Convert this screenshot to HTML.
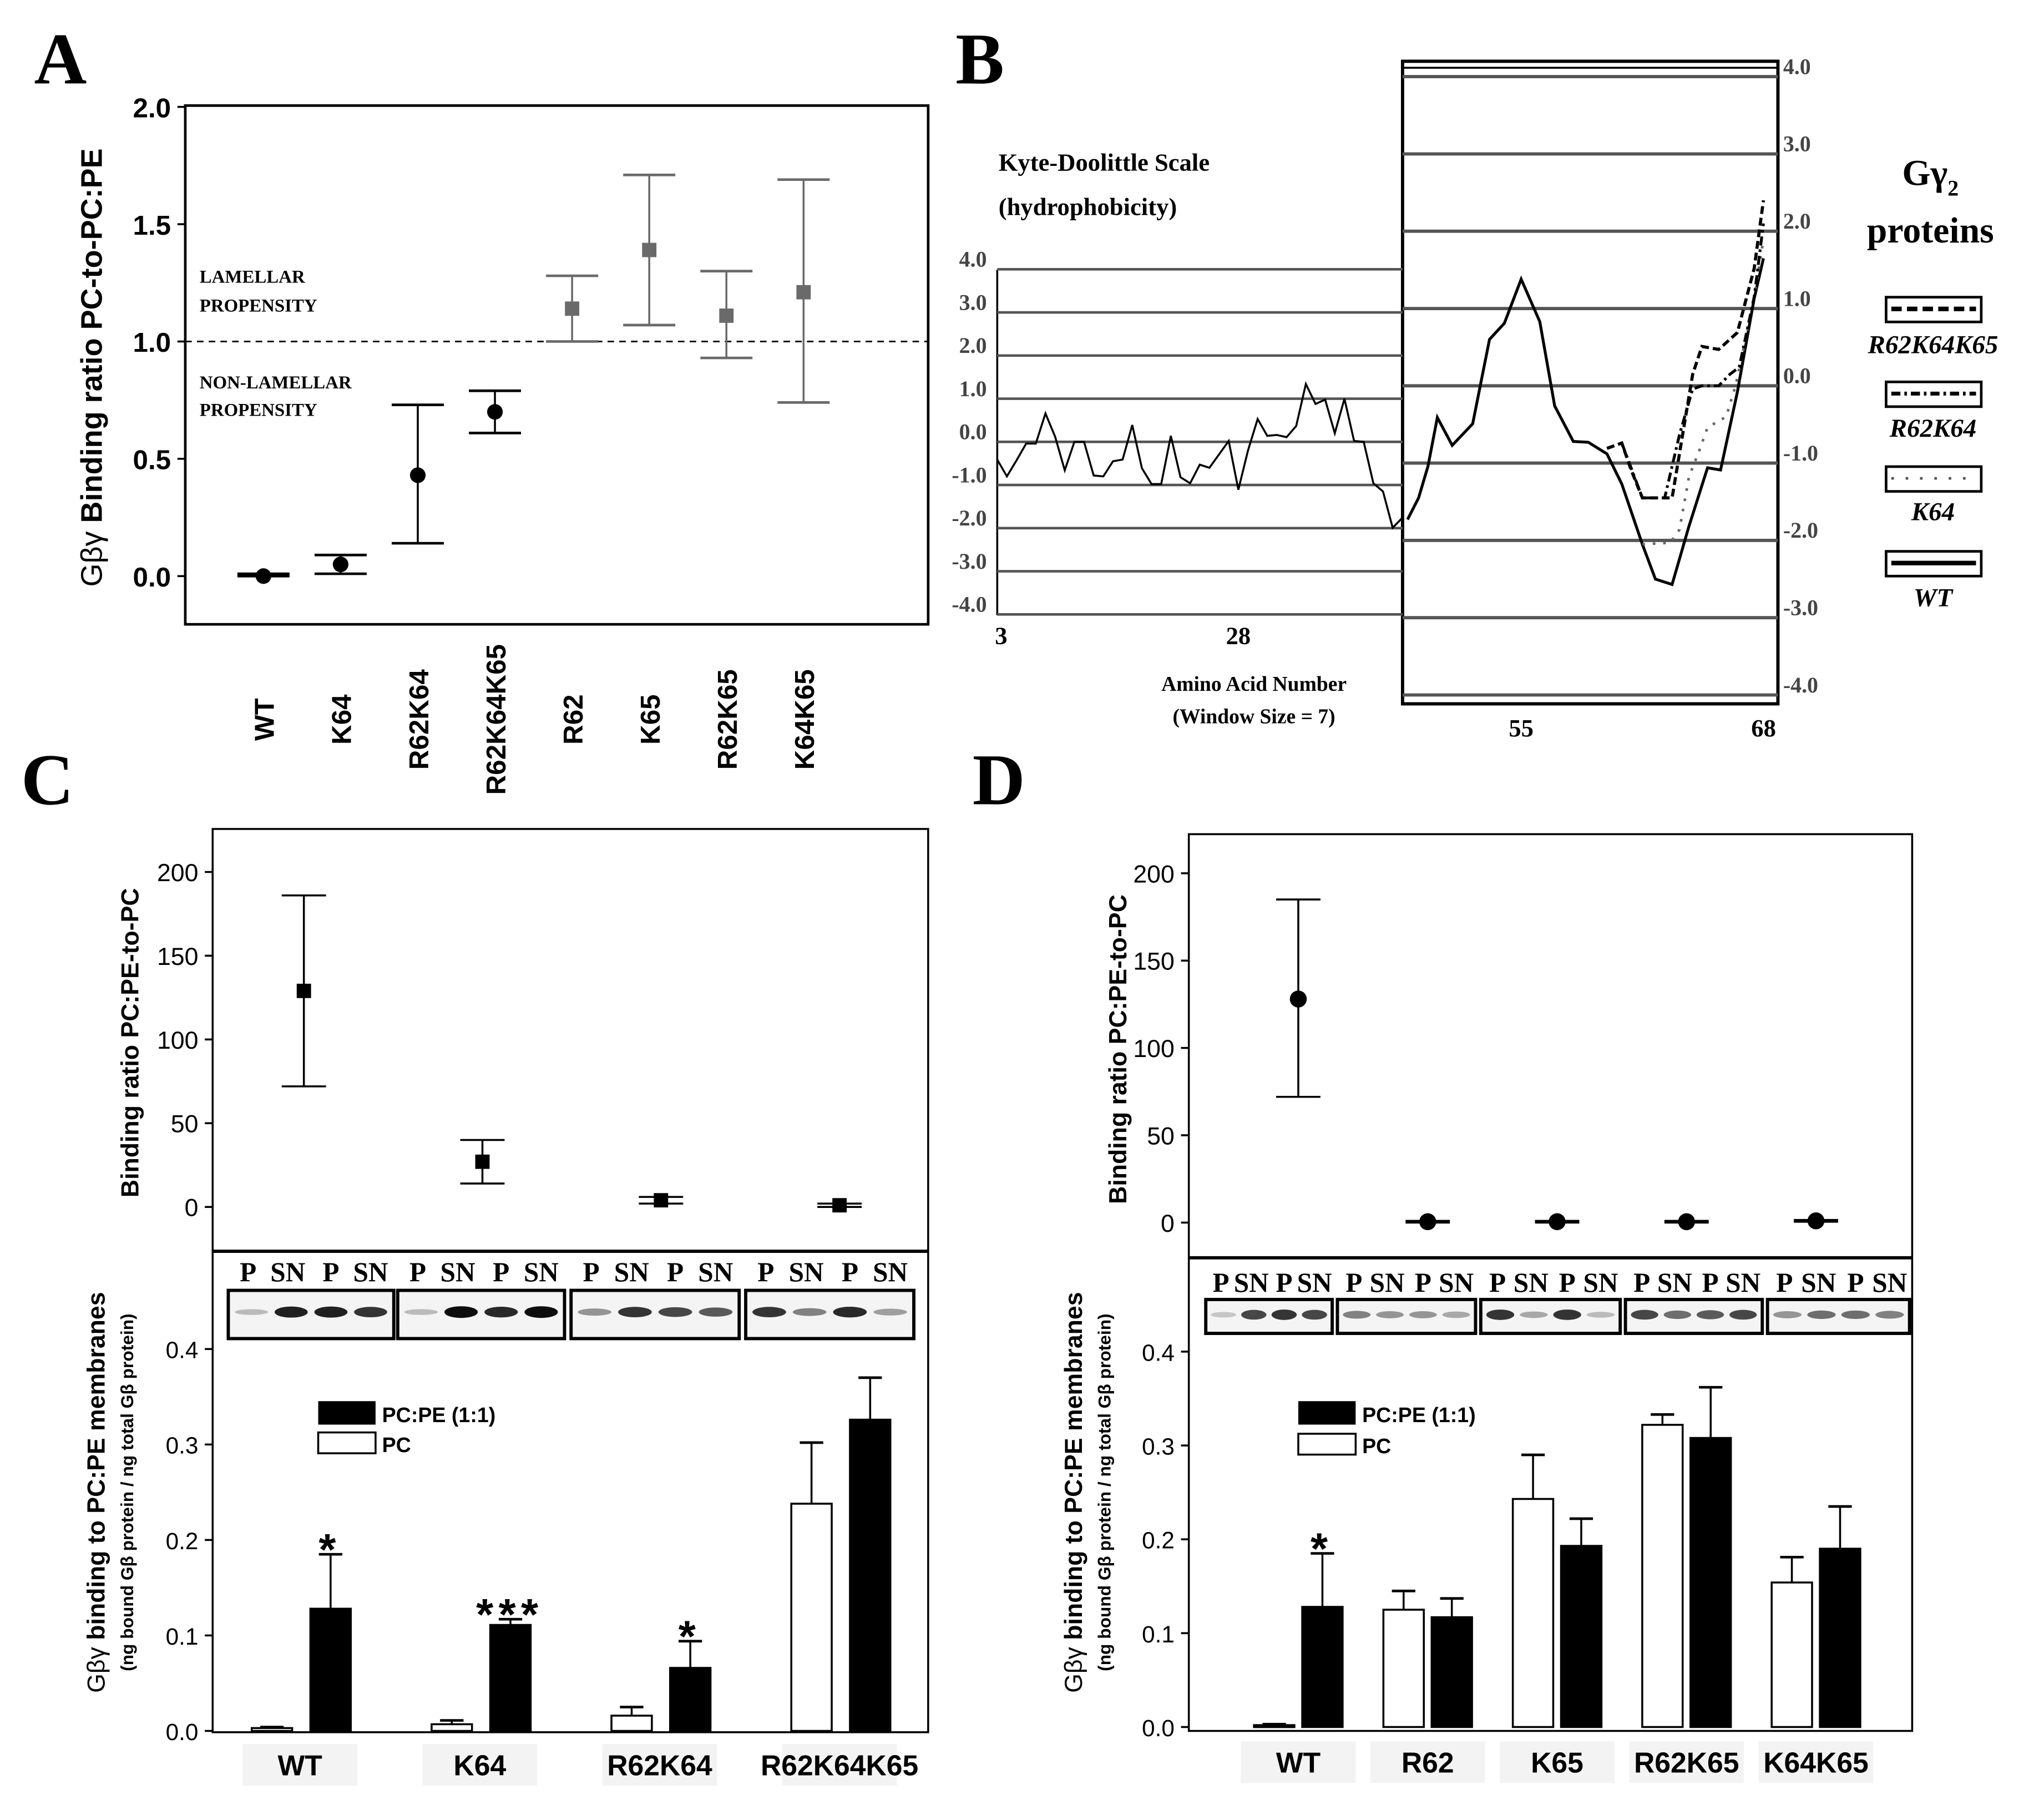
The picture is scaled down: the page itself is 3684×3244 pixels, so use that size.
<!DOCTYPE html>
<html><head><meta charset="utf-8">
<style>
html,body{margin:0;padding:0;background:#fff;}
svg{display:block;}
.serif{font-family:"Liberation Serif",serif;font-weight:bold;}
.sans{font-family:"Liberation Sans",sans-serif;font-weight:bold;}
</style></head>
<body>
<svg id="fig" xmlns="http://www.w3.org/2000/svg" width="3684" height="3244" viewBox="0 0 1568 1381">
<rect x="0" y="0" width="1568" height="1381" fill="#fff"/>

<text class="serif" x="26" y="64" font-size="56">A</text>
<text class="serif" x="733" y="64" font-size="56">B</text>
<text class="serif" x="16" y="617" font-size="56">C</text>
<text class="serif" x="746" y="617" font-size="56">D</text>

<g id="panelA">
<rect x="142" y="81" width="570" height="398" fill="none" stroke="#000" stroke-width="2"/>
<line x1="142" y1="262" x2="712" y2="262" stroke="#000" stroke-width="1.2" stroke-dasharray="5,4"/>
<text class="serif" x="153" y="217" font-size="14" font-weight="normal">LAMELLAR</text>
<text class="serif" x="153" y="239" font-size="14" font-weight="normal">PROPENSITY</text>
<text class="serif" x="153" y="298" font-size="14" font-weight="normal">NON-LAMELLAR</text>
<text class="serif" x="153" y="319" font-size="14" font-weight="normal">PROPENSITY</text>
<text class="sans" transform="translate(78,282) rotate(-90)" text-anchor="middle" font-size="23"><tspan font-weight="normal">Gβγ </tspan> Binding ratio PC-to-PC:PE</text>
</g>

<g id="panelB">
<text class="serif" x="766" y="131" font-size="19">Kyte-Doolittle Scale</text>
<text class="serif" x="766" y="165" font-size="19">(hydrophobicity)</text>
<line x1="765" y1="207" x2="765" y2="472" stroke="#000" stroke-width="1.5"/>
<rect x="1076" y="47" width="288" height="493" fill="none" stroke="#000" stroke-width="2.5"/>
<line x1="1076" y1="52" x2="1364" y2="52" stroke="#000" stroke-width="1.5"/>
<text class="serif" x="768" y="494" font-size="19" text-anchor="middle">3</text>
<text class="serif" x="950" y="494" font-size="19" text-anchor="middle">28</text>
<text class="serif" x="1167" y="565" font-size="19" text-anchor="middle">55</text>
<text class="serif" x="1353" y="565" font-size="19" text-anchor="middle">68</text>
<text class="serif" x="962" y="530" font-size="16" text-anchor="middle">Amino Acid Number</text>
<text class="serif" x="962" y="555" font-size="16" text-anchor="middle">(Window Size = 7)</text>
<text class="serif" x="1481" y="142" font-size="28" text-anchor="middle">Gγ<tspan font-size="17" dy="8">2</tspan></text>
<text class="serif" x="1481" y="186" font-size="28" text-anchor="middle">proteins</text>
<rect x="1447" y="228" width="73" height="19" fill="#fff" stroke="#000" stroke-width="2"/>
<line x1="1451" y1="237" x2="1516" y2="237" stroke="#000" stroke-width="3.5" stroke-dasharray="8,4"/>
<text class="serif" x="1483" y="271" font-size="20" font-style="italic" text-anchor="middle">R62K64K65</text>
<rect x="1447" y="293" width="73" height="19" fill="#fff" stroke="#000" stroke-width="2"/>
<line x1="1451" y1="302" x2="1516" y2="302" stroke="#000" stroke-width="3" stroke-dasharray="7,3,2,3"/>
<text class="serif" x="1483" y="335" font-size="20" font-style="italic" text-anchor="middle">R62K64</text>
<rect x="1447" y="358" width="73" height="19" fill="#fff" stroke="#000" stroke-width="2"/>
<line x1="1451" y1="367" x2="1516" y2="367" stroke="#555" stroke-width="2" stroke-dasharray="2,9"/>
<text class="serif" x="1483" y="399" font-size="20" font-style="italic" text-anchor="middle">K64</text>
<rect x="1447" y="423" width="73" height="19" fill="#fff" stroke="#000" stroke-width="2"/>
<line x1="1451" y1="432" x2="1516" y2="432" stroke="#000" stroke-width="3.5"/>
<text class="serif" x="1483" y="465" font-size="20" font-style="italic" text-anchor="middle">WT</text>
</g>

<g id="panelC">
<rect x="163" y="636" width="549" height="693" fill="none" stroke="#000" stroke-width="1.5"/>
<line x1="163" y1="960" x2="712" y2="960" stroke="#000" stroke-width="2.5"/>
<text class="sans" transform="translate(106,800) rotate(-90)" text-anchor="middle" font-size="19">Binding ratio PC:PE-to-PC</text>
<text class="sans" transform="translate(80,1145) rotate(-90)" text-anchor="middle" font-size="19"><tspan font-weight="normal">Gβγ</tspan> binding to PC:PE membranes</text>
<text class="sans" transform="translate(102,1145) rotate(-90)" text-anchor="middle" font-size="13.5" font-weight="normal">(ng bound Gβ protein / ng total Gβ protein)</text>
<rect x="244" y="1075" width="44" height="18" fill="#000"/>
<text class="sans" x="293" y="1091" font-size="16">PC:PE (1:1)</text>
<rect x="244" y="1099" width="44" height="16" fill="#fff" stroke="#000" stroke-width="1.5"/>
<text class="sans" x="293" y="1114" font-size="16">PC</text>
</g>

<g id="panelD">
<rect x="912" y="640" width="555" height="688" fill="none" stroke="#000" stroke-width="1.5"/>
<line x1="912" y1="965" x2="1467" y2="965" stroke="#000" stroke-width="2.5"/>
<text class="sans" transform="translate(864,805) rotate(-90)" text-anchor="middle" font-size="19">Binding ratio PC:PE-to-PC</text>
<text class="sans" transform="translate(830,1145) rotate(-90)" text-anchor="middle" font-size="19"><tspan font-weight="normal">Gβγ</tspan> binding to PC:PE membranes</text>
<text class="sans" transform="translate(852,1145) rotate(-90)" text-anchor="middle" font-size="13.5" font-weight="normal">(ng bound Gβ protein / ng total Gβ protein)</text>
<rect x="996" y="1075" width="44" height="18" fill="#000"/>
<text class="sans" x="1045" y="1091" font-size="16">PC:PE (1:1)</text>
<rect x="996" y="1100" width="44" height="16" fill="#fff" stroke="#000" stroke-width="1.5"/>
<text class="sans" x="1045" y="1115" font-size="16">PC</text>
</g>
</svg>

<script>
// ---------- Panel A data ----------
const aCats=['WT','K64','R62K64','R62K64K65','R62','K65','R62K65','K64K65'];
const aMean=[0.0,0.05,0.43,0.70,1.14,1.39,1.11,1.21];
const aLow=[0.0,0.01,0.14,0.61,1.00,1.07,0.93,0.74];
const aHigh=[0.01,0.09,0.73,0.79,1.28,1.71,1.30,1.69];
const aTicks=[0.0,0.5,1.0,1.5,2.0];

// ---------- Panel B data ----------
const bLeftStart=3;
const bLeftVals=[-0.41,-0.80,-0.43,-0.04,-0.04,0.66,0.12,-0.66,0.0,0.0,-0.78,-0.80,-0.45,-0.41,0.39,-0.61,-0.98,-0.98,0.14,-0.82,-0.96,-0.53,-0.60,-0.29,0.02,-1.11,-0.20,0.53,0.14,0.16,0.11,0.37,1.34,0.88,0.98,0.20,1.00,0.02,0.0,-0.96,-1.15,-1.99,-1.76];
const bLeftTicks=[4,3,2,1,0,-1,-2,-3,-4];
const bRightTicks=[4,3,2,1,0,-1,-2,-3,-4];
const wtRes=[48.9,49.5,50,50.5,51.3,52.4,53.3,54.1,55,56,56.8,57.8,58.6,59.6,60.4,61.5,62.2,63.1,64,65,65.7,66.6,67.5,68];
const wtVals=[-1.73,-1.45,-1.04,-0.41,-0.77,-0.49,0.6,0.81,1.38,0.83,-0.26,-0.72,-0.73,-0.88,-1.27,-2.05,-2.5,-2.57,-1.82,-1.06,-1.09,-0.08,1.13,1.65];
const tripleRes=[59.6,60.4,60.9,61.5,63.1,64.2,64.7,65.6,66.6,67.5,68];
const tripleVals=[-0.81,-0.74,-1.09,-1.45,-1.45,0.15,0.51,0.47,0.69,1.52,2.4];
const doubleRes=[60.4,61.5,62.7,63.5,64.2,64.7,65.6,66.2,66.7,67.5,68];
const doubleVals=[-0.74,-1.45,-1.45,-0.63,-0.04,0.0,0.0,0.15,0.24,1.15,2.1];
const k64Res=[61.5,63,63.5,64,64.6,65,66,66.5,67.5,68];
const k64Vals=[-2.05,-2.03,-1.86,-1.18,-0.81,-0.54,-0.4,0.0,1.13,1.9];

// ---------- Panel C data ----------
const cCats=['WT','K64','R62K64','R62K64K65'];
const cRatio=[129,27,4,1];
const cRatioLo=[72,14,2,0];
const cRatioHi=[186,40,6,2];
const cPC=[0.003,0.007,0.016,0.238];
const cPCtop=[0.004,0.011,0.025,0.302];
const cPE=[0.128,0.111,0.066,0.326];
const cPEtop=[0.185,0.117,0.094,0.370];
const cStars=['*','***','*',''];
const ratioTicks=[0,50,100,150,200];
const barTicks=[0.0,0.1,0.2,0.3,0.4];

// ---------- Panel D data ----------
const dCats=['WT','R62','K65','R62K65','K64K65'];
const dRatio=[128,0.5,0.5,0.5,1];
const dRatioLo=[72,0,0,0,0.5];
const dRatioHi=[185,1,1,1,1.5];
const dPC=[0.002,0.125,0.243,0.322,0.154];
const dPCtop=[0.003,0.145,0.290,0.333,0.181];
const dPE=[0.128,0.117,0.193,0.308,0.190];
const dPEtop=[0.185,0.137,0.222,0.362,0.235];
const dStars=['*','','','',''];

const NS='http://www.w3.org/2000/svg';
function mk(parent,tag,attrs,text){const e=document.createElementNS(NS,tag);for(const k in attrs)e.setAttribute(k,attrs[k]);if(text!=null)e.textContent=text;parent.appendChild(e);return e;}
const A=document.getElementById('panelA'),B=document.getElementById('panelB'),C=document.getElementById('panelC'),D=document.getElementById('panelD');
const SANS='"Liberation Sans", sans-serif', SERIF='"Liberation Serif", serif';

// ===== Panel A =====
const xA=i=>202+i*59.2, yA=v=>442-v*180;
aTicks.forEach(t=>{
  let tk=mk(A,'line',{x1:136,x2:142,y1:yA(t),y2:yA(t),stroke:'#000','stroke-width':1.5});
  
  
  let tl=mk(A,'text',{x:131,y:yA(t)+8,'text-anchor':'end','font-family':SANS,'font-weight':'bold','font-size':21},t.toFixed(1));
  
  
});
aCats.forEach((c,i)=>{
  const col=i<4?'#000':'#6a6a6a', x=xA(i);
  let eb=mk(A,'line',{x1:x,x2:x,y1:yA(aLow[i]),y2:yA(aHigh[i]),stroke:col,'stroke-width':1.5});
  
  
  [aLow[i],aHigh[i]].forEach(v=>{
    let cp=mk(A,'line',{x1:x-20,x2:x+20,y1:yA(v),y2:yA(v),stroke:col,'stroke-width':2});
    
    
  });
  let m;
  if(i<4) m=mk(A,'circle',{cx:x,cy:yA(aMean[i]),r:6,fill:'#000'});
  else m=mk(A,'rect',{x:x-5.5,y:yA(aMean[i])-5.5,width:11,height:11,fill:col});
  
  
  let lb=mk(A,'text',{transform:`translate(${x+8},552) rotate(-90)`,'text-anchor':'middle','font-family':SANS,'font-weight':'bold','font-size':21},c);
  
  
});

// ===== Panel B =====
const xL=r=>765+(r-3)*7.4, yL=v=>339-v*33.1;
const xR=r=>1167+(r-55)*14.3, yR=v=>296-v*59.3;
bLeftTicks.forEach(t=>{
  let g=mk(B,'line',{x1:765,x2:1076,y1:yL(t),y2:yL(t),stroke:'#555','stroke-width':2});
  
  
  let tl=mk(B,'text',{x:757,y:yL(t)-2,'text-anchor':'end','font-family':SERIF,'font-weight':'bold','font-size':17,fill:'#444'},t.toFixed(1));
  
  
});
bRightTicks.forEach(t=>{
  let g=mk(B,'line',{x1:1076,x2:1364,y1:yR(t),y2:yR(t),stroke:'#555','stroke-width':2.5});
  
  
  let tl=mk(B,'text',{x:1368,y:yR(t)-2,'font-family':SERIF,'font-weight':'bold','font-size':17,fill:'#444'},t.toFixed(1));
  
  
});
let lp=bLeftVals.map((v,i)=>`${i?'L':'M'}${xL(bLeftStart+i).toFixed(1)},${yL(v).toFixed(1)}`).join(' ');
let leftLine=mk(B,'path',{d:lp,fill:'none',stroke:'#000','stroke-width':1.5});


function rpath(res,vals){return res.map((r,i)=>`${i?'L':'M'}${xR(r).toFixed(1)},${yR(vals[i]).toFixed(1)}`).join(' ');}
let wtLine=mk(B,'path',{d:rpath(wtRes,wtVals),fill:'none',stroke:'#000','stroke-width':2.2});


let k64Line=mk(B,'path',{d:rpath(k64Res,k64Vals),fill:'none',stroke:'#666','stroke-width':2,'stroke-dasharray':'2,6'});


let dblLine=mk(B,'path',{d:rpath(doubleRes,doubleVals),fill:'none',stroke:'#000','stroke-width':2.2,'stroke-dasharray':'7,3,2,3'});


let triLine=mk(B,'path',{d:rpath(tripleRes,tripleVals),fill:'none',stroke:'#000','stroke-width':2.4,'stroke-dasharray':'6,3'});



function ratioPlot(G,cats,vals,lo,hi,xf,yf,tickX,square,key){
  ratioTicks.forEach(t=>{
    let tk=mk(G,'line',{x1:tickX,x2:tickX+6,y1:yf(t),y2:yf(t),stroke:'#000','stroke-width':1.5});
    
    
    let tl=mk(G,'text',{x:tickX-5,y:yf(t)+7,'text-anchor':'end','font-family':SANS,'font-size':19},String(t));
    
    
  });
  cats.forEach((c,i)=>{
    const x=xf(i);
    let eb=mk(G,'line',{x1:x,x2:x,y1:yf(lo[i]),y2:yf(hi[i]),stroke:'#000','stroke-width':1.5});
    
    
    [lo[i],hi[i]].forEach(v=>{
      let cp=mk(G,'line',{x1:x-17,x2:x+17,y1:yf(v),y2:yf(v),stroke:'#000','stroke-width':1.5});
      
      
    });
    let m=square?mk(G,'rect',{x:x-5.5,y:yf(vals[i])-5.5,width:11,height:11,fill:'#000'}):mk(G,'circle',{cx:x,cy:yf(vals[i]),r:6.5,fill:'#000'});
    
    
  });
}
function barPlot(G,cats,pc,pcTop,pe,peTop,stars,xc,yf,tickX,wOff,key,labelY){
  barTicks.forEach(t=>{
    let tk=mk(G,'line',{x1:tickX,x2:tickX+6,y1:yf(t),y2:yf(t),stroke:'#000','stroke-width':1.5});
    
    
    let tl=mk(G,'text',{x:tickX-5,y:yf(t)+7,'text-anchor':'end','font-family':SANS,'font-size':18},t.toFixed(1));
    
    
  });
  cats.forEach((c,i)=>{
    const cx=xc(i);
    const specs=[[pc[i],pcTop[i],cx-wOff[0],'#fff','pc'],[pe[i],peTop[i],cx+wOff[1],'#000','pcpe']];
    specs.forEach(([v,top,x0,fill,s])=>{
      const w=31;
      let er=mk(G,'line',{x1:x0+w/2,x2:x0+w/2,y1:yf(v),y2:yf(top),stroke:'#000','stroke-width':1.5});
      
      
      let cp=mk(G,'line',{x1:x0+w/2-9,x2:x0+w/2+9,y1:yf(top),y2:yf(top),stroke:'#000','stroke-width':2});
      
      
      let b=mk(G,'rect',{x:x0,y:yf(v),width:w,height:Math.max(yf(0)-yf(v),1.5),fill:fill,stroke:'#000','stroke-width':1.5});
      
      
    });
    if(stars[i]){
      let st=mk(G,'text',{x:cx+wOff[1]+15,y:yf(peTop[i])+8,'text-anchor':'middle','font-family':SANS,'font-weight':'bold','font-size':34,'letter-spacing':4},stars[i]);
      
      
    }
    let bg=mk(G,'rect',{x:cx-44,y:labelY-24,width:88,height:32,fill:'#f3f3f3'});
    
    
    let lb=mk(G,'text',{x:cx,y:labelY,'text-anchor':'middle','font-family':SANS,'font-weight':'bold','font-size':22},c);
    
    
  });
}
function blots(G,boxes,labelY,boxY,boxH,bands,key){
  boxes.forEach((bx,i)=>{
    const [x0,x1]=bx, w=x1-x0;
    [['P',0.12],['SN',0.36],['P',0.62],['SN',0.86]].forEach(([t,f])=>{
      let tl=mk(G,'text',{x:x0+w*f,y:labelY,'text-anchor':'middle','font-family':SERIF,'font-weight':'bold','font-size':21},t);
      
      
    });
    let r=mk(G,'rect',{x:x0,y:boxY,width:w,height:boxH,fill:'#f4f4f4',stroke:'#000','stroke-width':2.5});
    
    
    bands[i].forEach((d,j)=>{
      if(d<=0)return;
      let e=mk(G,'ellipse',{cx:x0+w*(0.14+j*0.24),cy:boxY+boxH*0.45,rx:w*0.1,ry:2+d*2.5,fill:`rgba(0,0,0,${0.15+d*0.8})`});
      
      
    });
  });
}

ratioPlot(C,cCats,cRatio,cRatioLo,cRatioHi,i=>233+i*137,v=>926-v*1.285,157,true,'c');
blots(C,[[175,302],[305,433],[438,567],[572,701]],983,990,37,[[0.1,0.9,0.9,0.8],[0.1,1,0.85,1],[0.3,0.8,0.7,0.6],[0.8,0.4,0.85,0.25]],'c');
barPlot(C,cCats,cPC,cPCtop,cPE,cPEtop,cStars,i=>230+i*138,v=>1328-v*732.5,157,[37,8],'c',1362);

ratioPlot(D,dCats,dRatio,dRatioLo,dRatioHi,i=>996+i*99.3,v=>938-v*1.34,906,false,'d');
blots(D,[[925,1022],[1026,1132],[1136,1243],[1247,1352],[1356,1465]],991,997,26,[[0.05,0.7,0.8,0.7],[0.4,0.3,0.3,0.2],[0.8,0.2,0.8,0.1],[0.7,0.5,0.6,0.7],[0.3,0.5,0.5,0.4]],'d');
barPlot(D,dCats,dPC,dPCtop,dPE,dPEtop,dStars,i=>996+i*99.3,v=>1325-v*720,906,[34,3],'d',1360);
</script>
</body></html>
